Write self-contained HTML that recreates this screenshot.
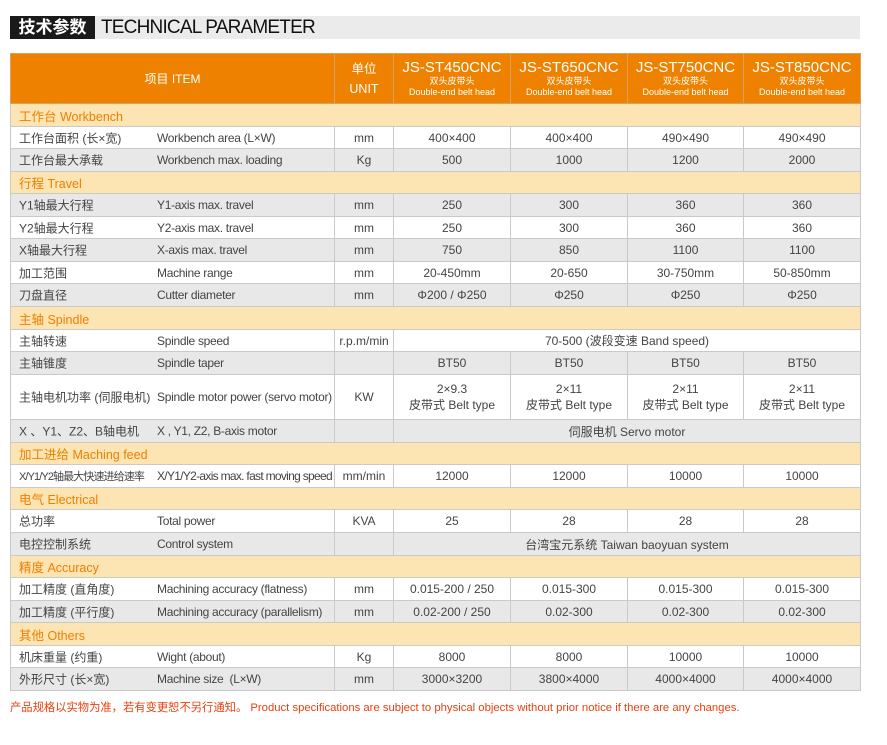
<!DOCTYPE html>
<html><head><meta charset="utf-8">
<style>
body{margin:0;width:887px;height:745px;background:#fff;position:relative;overflow:hidden;font-family:"Liberation Sans","Noto Sans CJK SC",sans-serif;}
#tbar{position:absolute;left:10px;top:16px;width:850px;height:23px;background:#ebebeb;}
#tbox{position:absolute;left:10px;top:16px;width:85px;height:23px;background:#1a1a1a;color:#fff;font-size:17px;font-weight:bold;line-height:23px;text-align:center;}
#ttext{position:absolute;left:101px;top:16px;height:23px;line-height:23px;font-size:19px;color:#111;letter-spacing:-0.8px;}
table{position:absolute;left:10px;top:53px;width:851px;border-collapse:collapse;table-layout:fixed;font-size:12px;color:#444;}
td{border:1px solid #c9c9c9;padding:0;text-align:center;white-space:nowrap;overflow:hidden;}
tr.h td{background:#ee8200;color:#fff;border-color:#d9a060;}
tr.sec td{background:#fde4b3;color:#ee7f00;text-align:left;padding-left:8px;font-size:12.5px;}
tr.g td{background:#e8e8e8;}
td.it{text-align:left;position:relative;}
td.it .cn{position:absolute;left:8px;top:50%;transform:translateY(-50%);}
td.it .en{position:absolute;left:146px;top:50%;transform:translateY(-50%);letter-spacing:-0.3px;}
.mn{font-size:15px;line-height:16px;}
.sub{font-size:9px;line-height:11px;}
#foot{position:absolute;left:10px;top:699px;font-size:11.3px;color:#e8400e;white-space:nowrap;}
</style></head><body>
<div id="tbar"></div>
<div id="tbox">技术参数</div>
<div id="ttext">TECHNICAL PARAMETER</div>
<table>
<colgroup><col style="width:324px"><col style="width:59px"><col style="width:117px"><col style="width:117px"><col style="width:116px"><col style="width:117px"></colgroup>
<tr class="h" style="height:50px"><td>项目 ITEM</td><td style="font-size:12.5px;line-height:20px">单位<br>UNIT</td>
<td><div class="mn">JS-ST450CNC</div><div class="sub">双头皮带头</div><div class="sub">Double-end belt head</div></td>
<td><div class="mn">JS-ST650CNC</div><div class="sub">双头皮带头</div><div class="sub">Double-end belt head</div></td>
<td><div class="mn">JS-ST750CNC</div><div class="sub">双头皮带头</div><div class="sub">Double-end belt head</div></td>
<td><div class="mn">JS-ST850CNC</div><div class="sub">双头皮带头</div><div class="sub">Double-end belt head</div></td></tr>
<tr class="sec" style="height:23px"><td colspan="6">工作台 Workbench</td></tr>
<tr style="height:22px"><td class="it"><span class="cn">工作台面积 (长×宽)</span><span class="en">Workbench area (L×W)</span></td><td>mm</td><td>400×400</td><td>400×400</td><td>490×490</td><td>490×490</td></tr>
<tr class="g" style="height:23px"><td class="it"><span class="cn">工作台最大承载</span><span class="en">Workbench max. loading</span></td><td>Kg</td><td>500</td><td>1000</td><td>1200</td><td>2000</td></tr>
<tr class="sec" style="height:22px"><td colspan="6">行程 Travel</td></tr>
<tr class="g" style="height:23px"><td class="it"><span class="cn">Y1轴最大行程</span><span class="en">Y1-axis max. travel</span></td><td>mm</td><td>250</td><td>300</td><td>360</td><td>360</td></tr>
<tr style="height:22px"><td class="it"><span class="cn">Y2轴最大行程</span><span class="en">Y2-axis max. travel</span></td><td>mm</td><td>250</td><td>300</td><td>360</td><td>360</td></tr>
<tr class="g" style="height:23px"><td class="it"><span class="cn">X轴最大行程</span><span class="en">X-axis max. travel</span></td><td>mm</td><td>750</td><td>850</td><td>1100</td><td>1100</td></tr>
<tr style="height:22px"><td class="it"><span class="cn">加工范围</span><span class="en">Machine range</span></td><td>mm</td><td>20-450mm</td><td>20-650</td><td>30-750mm</td><td>50-850mm</td></tr>
<tr class="g" style="height:23px"><td class="it"><span class="cn">刀盘直径</span><span class="en">Cutter diameter</span></td><td>mm</td><td>Φ200 / Φ250</td><td>Φ250</td><td>Φ250</td><td>Φ250</td></tr>
<tr class="sec" style="height:23px"><td colspan="6">主轴 Spindle</td></tr>
<tr style="height:22px"><td class="it"><span class="cn">主轴转速</span><span class="en">Spindle speed</span></td><td>r.p.m/min</td><td colspan="4">70-500 (波段变速 Band speed)</td></tr>
<tr class="g" style="height:23px"><td class="it"><span class="cn">主轴锥度</span><span class="en">Spindle taper</span></td><td></td><td>BT50</td><td>BT50</td><td>BT50</td><td>BT50</td></tr>
<tr style="height:45px"><td class="it"><span class="cn">主轴电机功率 (伺服电机)</span><span class="en">Spindle motor power (servo motor)</span></td><td>KW</td><td style="line-height:16px">2×9.3<br>皮带式 Belt type</td><td style="line-height:16px">2×11<br>皮带式 Belt type</td><td style="line-height:16px">2×11<br>皮带式 Belt type</td><td style="line-height:16px">2×11<br>皮带式 Belt type</td></tr>
<tr class="g" style="height:23px"><td class="it"><span class="cn">X 、Y1、Z2、B轴电机</span><span class="en">X , Y1, Z2, B-axis motor</span></td><td></td><td colspan="4">伺服电机 Servo motor</td></tr>
<tr class="sec" style="height:22px"><td colspan="6">加工进给 Maching feed</td></tr>
<tr style="height:23px"><td class="it"><span class="cn" style="font-size:11px;letter-spacing:-0.9px">X/Y1/Y2轴最大快速进给速率</span><span class="en" style="letter-spacing:-0.7px">X/Y1/Y2-axis max. fast moving speed</span></td><td>mm/min</td><td>12000</td><td>12000</td><td>10000</td><td>10000</td></tr>
<tr class="sec" style="height:22px"><td colspan="6">电气 Electrical</td></tr>
<tr style="height:23px"><td class="it"><span class="cn">总功率</span><span class="en">Total power</span></td><td>KVA</td><td>25</td><td>28</td><td>28</td><td>28</td></tr>
<tr class="g" style="height:23px"><td class="it"><span class="cn">电控控制系统</span><span class="en">Control system</span></td><td></td><td colspan="4">台湾宝元系统 Taiwan baoyuan system</td></tr>
<tr class="sec" style="height:22px"><td colspan="6">精度 Accuracy</td></tr>
<tr style="height:23px"><td class="it"><span class="cn">加工精度 (直角度)</span><span class="en">Machining accuracy (flatness)</span></td><td>mm</td><td>0.015-200 / 250</td><td>0.015-300</td><td>0.015-300</td><td>0.015-300</td></tr>
<tr class="g" style="height:22px"><td class="it"><span class="cn">加工精度 (平行度)</span><span class="en">Machining accuracy (parallelism)</span></td><td>mm</td><td>0.02-200 / 250</td><td>0.02-300</td><td>0.02-300</td><td>0.02-300</td></tr>
<tr class="sec" style="height:23px"><td colspan="6">其他 Others</td></tr>
<tr style="height:22px"><td class="it"><span class="cn">机床重量 (约重)</span><span class="en">Wight (about)</span></td><td>Kg</td><td>8000</td><td>8000</td><td>10000</td><td>10000</td></tr>
<tr class="g" style="height:23px"><td class="it"><span class="cn">外形尺寸 (长×宽)</span><span class="en">Machine size &nbsp;(L×W)</span></td><td>mm</td><td>3000×3200</td><td>3800×4000</td><td>4000×4000</td><td>4000×4000</td></tr>
</table>
<div id="foot">产品规格以实物为准，若有变更恕不另行通知。 Product specifications are subject to physical objects without prior notice if there are any changes.</div>
</body></html>
